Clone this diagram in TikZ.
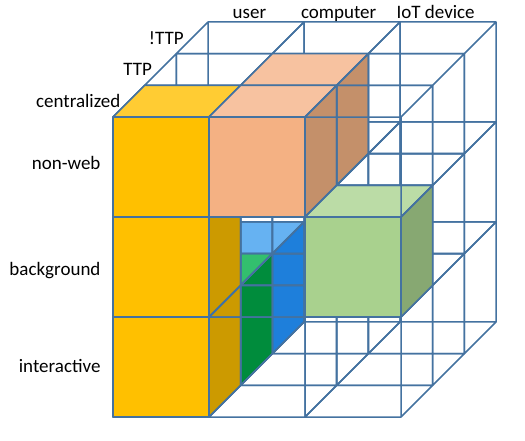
\documentclass[tikz,border=0pt]{standalone}
\usepackage{fontspec}
\setmainfont{Carlito}
\definecolor{edge}{RGB}{68,114,160}
\definecolor{front-gold}{HTML}{FFC000}
\definecolor{top-gold}{HTML}{FFCC33}
\definecolor{side-gold}{HTML}{CC9A00}
\definecolor{front-salmon}{HTML}{F4B183}
\definecolor{top-salmon}{HTML}{F7C2A0}
\definecolor{side-salmon}{HTML}{C4906A}
\definecolor{front-lgreen}{HTML}{A9D18E}
\definecolor{top-lgreen}{HTML}{BBDCA6}
\definecolor{side-lgreen}{HTML}{87A872}
\definecolor{front-green}{HTML}{00B050}
\definecolor{top-green}{HTML}{33BF6E}
\definecolor{side-green}{HTML}{008C3C}
\definecolor{front-blue}{HTML}{0070C0}
\definecolor{top-blue}{HTML}{66B2F2}
\definecolor{side-blue}{HTML}{1E7FDB}
% filled cells, key = column row depth
\pgfkeys{/cubes/.cd,
  000/.initial=gold, 010/.initial=gold, 020/.initial=gold,
  100/.initial=salmon, 101/.initial=salmon,
  210/.initial=lgreen,
  021/.initial=green, 022/.initial=blue}
\tikzset{wire/.style={draw=edge, line width=1.5pt, line join=round}}
\begin{document}
\begin{tikzpicture}[x={(96pt,0pt)}, y={(0pt,-100pt)}, z={(31.7pt,31.7pt)},
  every node/.style={font=\fontsize{19}{23}\selectfont}]
  \useasboundingbox (-113pt,117pt) rectangle (412pt,-323pt);
  \foreach \k in {2,1,0}
    \foreach \i in {0,1,2}
      \foreach \j in {2,1,0} {
        \draw[wire] (\i,\j,\k) -- ++(1,0,0) -- ++(0,1,0) -- ++(-1,0,0) -- cycle
          (\i,\j,\k+1) -- ++(1,0,0) -- ++(0,1,0) -- ++(-1,0,0) -- cycle
          (\i,\j,\k) -- ++(0,0,1) (\i+1,\j,\k) -- ++(0,0,1)
          (\i+1,\j+1,\k) -- ++(0,0,1) (\i,\j+1,\k) -- ++(0,0,1);
        \pgfkeysifdefined{/cubes/\i\j\k}{
          \pgfkeysgetvalue{/cubes/\i\j\k}{\cubecol}
          \filldraw[wire, fill=top-\cubecol] (\i,\j,\k) -- ++(1,0,0) -- ++(0,0,1) -- ++(-1,0,0) -- cycle;
          \filldraw[wire, fill=side-\cubecol] (\i+1,\j,\k) -- ++(0,1,0) -- ++(0,0,1) -- ++(0,-1,0) -- cycle;
          \filldraw[wire, fill=front-\cubecol] (\i,\j,\k) rectangle ++(1,1,0);
        }{}
      }
  \node[anchor=base] (user) at (0.43,-0.03,3) {user};
  \node[anchor=base] (computer) at (1.36,-0.03,3) {computer};
  \node[anchor=base] (iot) at (2.37,-0.03,3) {IoT device};
  \node[left=5pt] (central) at (0,0,0.5) {centralized};
  \node[left=5pt] (ttp) at (0,0,1.5) {TTP};
  \node[left=5pt] (nottp) at (0,0,2.5) {!TTP};
  \node[left=9pt] (nonweb) at (0,0.46,0) {non-web};
  \node[left=9pt] (backgr) at (0,1.54,0) {background};
  \node[left=9pt] (inter) at (0,2.49,0) {interactive};
\end{tikzpicture}
\end{document}
